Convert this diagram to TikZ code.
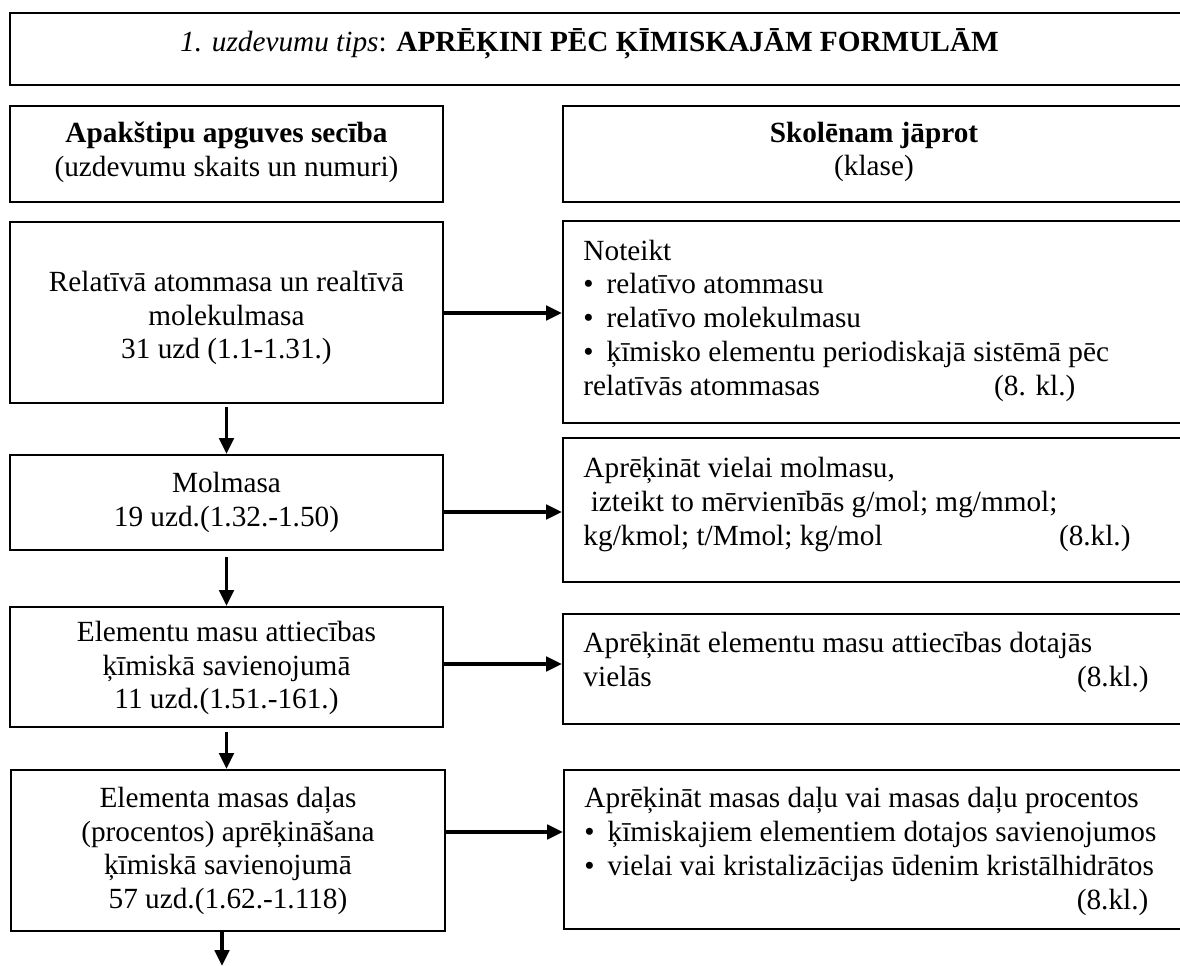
\documentclass[tikz,border=0pt]{standalone}
\usepackage{fontspec}
\setmainfont{Liberation Serif}
\usetikzlibrary{arrows.meta}
% one drawing unit of the layout grid
\newdimen\pxu \pxu=0.41pt
% strut that fixes the height of the first line of a text block
\newcommand\leadstrut{\rule{0pt}{11pt}}
% bullet with the hanging gap before the item text
\newcommand\itemdot{\makebox[9.5pt][l]{•}}
\begin{document}
\begin{tikzpicture}[x=0.41pt,y=-0.41pt,
  frame/.style={draw, line width=0.85pt, inner sep=0pt},
  ctxt/.style={inner sep=0pt, align=center, font=\fontsize{12}{13.8}\selectfont},
  ltxt/.style={inner sep=0pt, align=left, anchor=north west, font=\fontsize{12}{13.9}\selectfont},
  flow/.style={line width=1.6pt, -{Triangle[length=6.5pt,width=5.8pt]}},
]
\useasboundingbox (0,0) rectangle (1180,966);
\clip (0,0) rectangle (1180,966);

% title bar
\node[frame, minimum width=1175\pxu, minimum height=72\pxu] (tbox) at (597.5,49) {};
\node[inner sep=0pt, anchor=base, font=\fontsize{12}{13.8}\selectfont] (ttext) at (589.5,52)
  {\textit{1. uzdevumu tips}: \textbf{APRĒĶINI PĒC ĶĪMISKAJĀM FORMULĀM}};

% column headings
\node[frame, minimum width=433\pxu, minimum height=96\pxu] (hl) at (226.5,154) {};
\node[ctxt] (hltext) at (226.5,152) {\textbf{Apakštipu apguves secība}\\(uzdevumu skaits un numuri)};
\node[frame, minimum width=622\pxu, minimum height=96\pxu] (hr) at (874,154) {};
\node[ctxt] (hrtext) at (874,152) {\textbf{Skolēnam jāprot}\\(klase)};

% left column: subtopics
\node[frame, minimum width=433\pxu, minimum height=181\pxu] (b1) at (226.5,312.5) {};
\node[ctxt] (t1) at (226.5,318) {Relatīvā atommasa un realtīvā\\molekulmasa\\31 uzd (1.1-1.31.)};
\node[frame, minimum width=433\pxu, minimum height=95\pxu] (b2) at (226.5,502.5) {};
\node[ctxt] (t2) at (226.5,502.5) {Molmasa\\19 uzd.(1.32.-1.50)};
\node[frame, minimum width=433\pxu, minimum height=120\pxu] (b3) at (226.5,667) {};
\node[ctxt] (t3) at (226.5,668) {Elementu masu attiecības\\ķīmiskā savienojumā\\11 uzd.(1.51.-161.)};
\node[frame, minimum width=434\pxu, minimum height=161\pxu] (b4) at (228,850.5) {};
\node[ctxt] (t4) at (228,851) {Elementa masas daļas\\(procentos) aprēķināšana\\ķīmiskā savienojumā\\57 uzd.(1.62.-1.118)};

% right column: skills
\node[frame, minimum width=622\pxu, minimum height=202\pxu] (r1) at (874,322) {};
\node[ltxt] (s1) at (583,232.7) {\leadstrut Noteikt\\
  \itemdot relatīvo atommasu\\
  \itemdot relatīvo molekulmasu\\
  \itemdot ķīmisko elementu periodiskajā sistēmā pēc\\
  \makebox[201.7pt][l]{relatīvās atommasas\hfill(8. kl.)}};
\node[frame, minimum width=622\pxu, minimum height=144\pxu] (r2) at (874,510) {};
\node[ltxt] (s2) at (583,450.2) {\leadstrut Aprēķināt vielai molmasu,\\
  \hspace*{3pt}izteikt to mērvienībās g/mol; mg/mmol;\\
  \makebox[224.3pt][l]{kg/kmol; t/Mmol; kg/mol\hfill(8.kl.)}};
\node[frame, minimum width=622\pxu, minimum height=110\pxu] (r3) at (874,669) {};
\node[ltxt] (s3) at (583,625.2) {\leadstrut Aprēķināt elementu masu attiecības dotajās\\
  \makebox[231.7pt][l]{vielās\hfill(8.kl.)}};
\node[frame, minimum width=621\pxu, minimum height=159\pxu] (r4) at (874.5,849.5) {};
\node[ltxt] (s4) at (584,780.2) {\leadstrut Aprēķināt masas daļu vai masas daļu procentos\\
  \itemdot ķīmiskajiem elementiem dotajos savienojumos\\
  \itemdot vielai vai kristalizācijas ūdenim kristālhidrātos\\
  \makebox[231.2pt][l]{\hfill(8.kl.)}};

% heights of the horizontal links
\coordinate (a1) at (0,313);
\coordinate (a2) at (0,512);
\coordinate (a3) at (0,664);
\coordinate (a4) at (0,832);
\coordinate (tail) at (222,966);

% links to the skills
\draw[flow] (b1.east |- a1) -- (r1.west |- a1);
\draw[flow] (b2.east |- a2) -- (r2.west |- a2);
\draw[flow] (b3.east |- a3) -- (r3.west |- a3);
\draw[flow] (b4.east |- a4) -- (r4.west |- a4);

% learning order
\draw[flow, shorten <=1.2pt] (b1.south) -- (b2.north);
\draw[flow, shorten <=2.4pt] (b2.south) -- (b2.south |- b3.north);
\draw[flow, shorten <=1.6pt] (b3.south) -- (b3.south |- b4.north);
\draw[flow] (b4.south -| tail) -- (tail);
\end{tikzpicture}
\end{document}
